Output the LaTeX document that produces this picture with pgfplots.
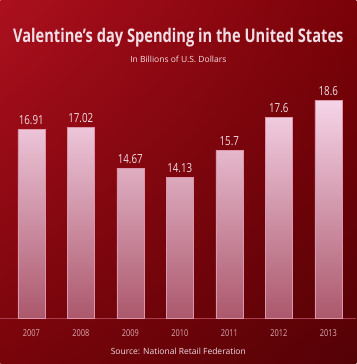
\documentclass[border=0pt]{standalone}
\usepackage{fontspec}
\setmainfont{Open Sans}[FakeStretch=0.78]
\newfontfamily\regfont{Open Sans}
\usepackage{pgfplots}
\pgfplotsset{compat=1.18}
\usetikzlibrary{shadings}
\definecolor{bgTL}{RGB}{172,16,30}
\definecolor{bgTR}{RGB}{122,2,8}
\definecolor{bgBL}{RGB}{120,4,10}
\definecolor{bgBR}{RGB}{84,2,6}
\definecolor{barTop}{RGB}{246,212,232}
\definecolor{barBot}{RGB}{172,88,108}
\definecolor{txt}{RGB}{240,222,230}
\definecolor{txtdim}{RGB}{222,170,180}
\begin{document}
\begin{tikzpicture}[x=1pt,y=1pt]
\shade[upper left=bgTL, upper right=bgTR, lower left=bgBL, lower right=bgBR] (0,0) rectangle (356,364);
\draw[color={rgb,255:red,170;green,60;blue,75}, line width=0.6pt] (0,46) -- (356,46);
\node[font=\bfseries\fontsize{18.8}{22}\selectfont, text=txt] at (178,326) {Valentine's day Spending in the United States};
\node[font=\regfont\fontsize{8.5}{10}\selectfont, text=txt] at (178,305) {In Billions of U.S. Dollars};
\node[font=\regfont\fontsize{8.5}{10}\selectfont, text=txt] at (178,13) {Source: National Retail Federation};
\begin{axis}[
  at={(0pt,46pt)}, anchor=south west,
  scale only axis, width=356pt, height=228pt,
  xmin=-0.626, xmax=6.566, ymin=6, ymax=19.2,
  axis lines=none, clip=false,
  xtick=\empty, ytick=\empty,
  ybar, bar width=27pt,
  nodes near coords,
  every node near coord/.append style={font=\fontsize{12.5}{14}\selectfont, text=txt, yshift=1pt},
  /pgf/number format/.cd, fixed, precision=2, assume math mode=true,
]
\addplot[draw={rgb,255:red,220;green,150;blue,170}, line width=0.4pt, top color=barTop, bottom color=barBot]
 coordinates {(0,16.91) (1,17.02) (2,14.67) (3,14.13) (4,15.7) (5,17.6) (6,18.6)};
\end{axis}
\foreach \yr [count=\i from 0] in {2007,2008,2009,2010,2011,2012,2013}
  \node[font=\fontsize{9.5}{11}\selectfont, text=txtdim] at (31+49.5*\i, 31) {\yr};
\end{tikzpicture}
\end{document}
